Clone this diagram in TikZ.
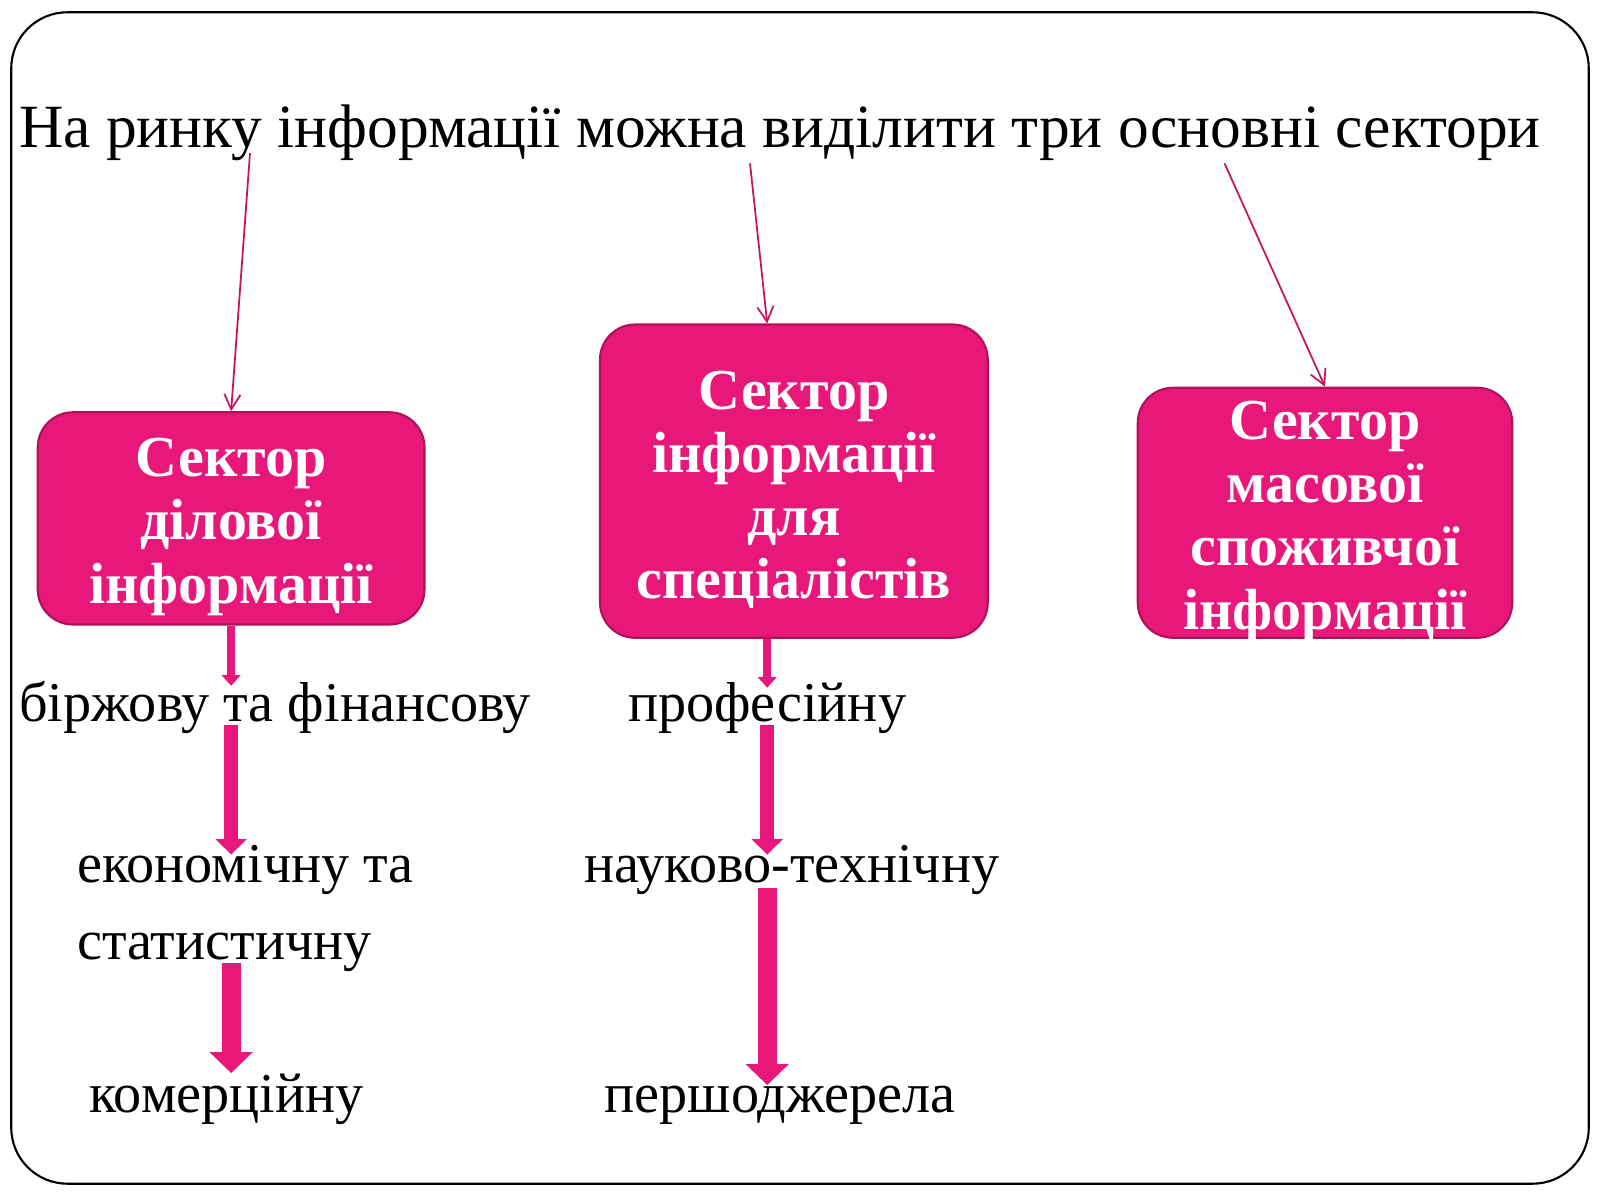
\documentclass[tikz,border=0pt]{standalone}
\usepackage{fontspec}
\setmainfont{Liberation Serif}
\usetikzlibrary{arrows.meta}
\definecolor{sectorpink}{RGB}{232,23,122}
\definecolor{sectoredge}{RGB}{176,18,88}
\definecolor{arrowred}{RGB}{196,20,96}
\newcommand{\px}{0.010204cm}
\newcommand{\firstline}{\rule{0pt}{15.8pt}}

\begin{document}
\begin{tikzpicture}[x=\px,y=-\px,
  sectorbox/.style={draw=sectoredge,line width=0.6pt,fill=sectorpink,text=white,rounded corners=10pt,
    align=center,inner sep=2pt,font=\bfseries\fontsize{16.5}{18}\selectfont},
  leaf/.style={inner sep=0pt,anchor=base west,font=\fontsize{16}{21.8}\selectfont},
  thinarr/.style={draw=arrowred,line width=0.5pt,-{Straight Barb[length=4.3pt,width=4.6pt]}},
  smallarr/.style={draw=sectorpink,line width=2.3pt,-{Triangle[width=5.2pt,length=3pt]}},
  midarr/.style={draw=sectorpink,line width=4pt,-{Triangle[width=8.7pt,length=4.4pt]}},
  bigarr/.style={draw=sectorpink,line width=5.4pt,-{Triangle[width=12pt,length=6pt]}}]
  \useasboundingbox (0,0) rectangle (1568,1176);
  \draw[line width=0.6pt,rounded corners=16pt] (11,12) rectangle (1557,1160);

  \node[inner sep=0pt,anchor=base west,font=\fontsize{17.5}{21}\selectfont] (title) at (18,145)
    {На ринку інформації можна виділити три основні сектори};

  \node[sectorbox,minimum width=379*\px,minimum height=208*\px] (busbox) at (226.5,508)
    {\firstline Сектор\\ділової\\інформації};
  \node[sectorbox,minimum width=380*\px,minimum height=307*\px] (specbox) at (778,471.5)
    {\firstline Сектор\\інформації\\для\\спеціалістів};
  \node[sectorbox,minimum width=367*\px,minimum height=245*\px,inner ysep=-1.5pt] (massbox) at (1298.5,502.5)
    {\firstline Сектор\\масової\\споживчої\\інформації};

  \node[leaf] (exch) at (18,707) {біржову та фінансову};
  \node[leaf,align=left] (econ) at (75,940) {економічну та\\статистичну};
  \node[leaf] (comm) at (87,1090) {комерційну};
  \node[leaf] (prof) at (615,707) {професійну};
  \node[leaf] (scitech) at (572,865) {науково-технічну};
  \node[leaf] (prim) at (592,1090) {першоджерела};

  \coordinate (t1) at (245,150);
  \coordinate (t2) at (735,160);
  \coordinate (t3) at (1200,160);
  \draw[thinarr] (t1) -- (busbox.north);
  \draw[thinarr] (t2) -- (specbox.north -| prof.north);
  \draw[thinarr] (t3) -- (massbox.north);

  \draw[smallarr,shorten >=-1.5pt] (busbox.south) -- (exch.north -| busbox.south);
  \draw[midarr,shorten <=-2.6pt,shorten >=-2.8pt] (exch.south -| busbox.south) -- (econ.north -| busbox.south);
  \draw[bigarr,shorten <=-2.6pt] (econ.south -| busbox.south) -- (comm.north -| busbox.south);
  \draw[smallarr,shorten >=-1.7pt] (specbox.south -| prof.north) -- (prof.north);
  \draw[midarr,shorten <=-2.6pt,shorten >=-2.8pt] (prof.south) -- (scitech.north -| prof.south);
  \draw[bigarr,shorten <=-2pt] (scitech.south -| prof.south) -- (prim.north -| prof.south);
\end{tikzpicture}
\end{document}
